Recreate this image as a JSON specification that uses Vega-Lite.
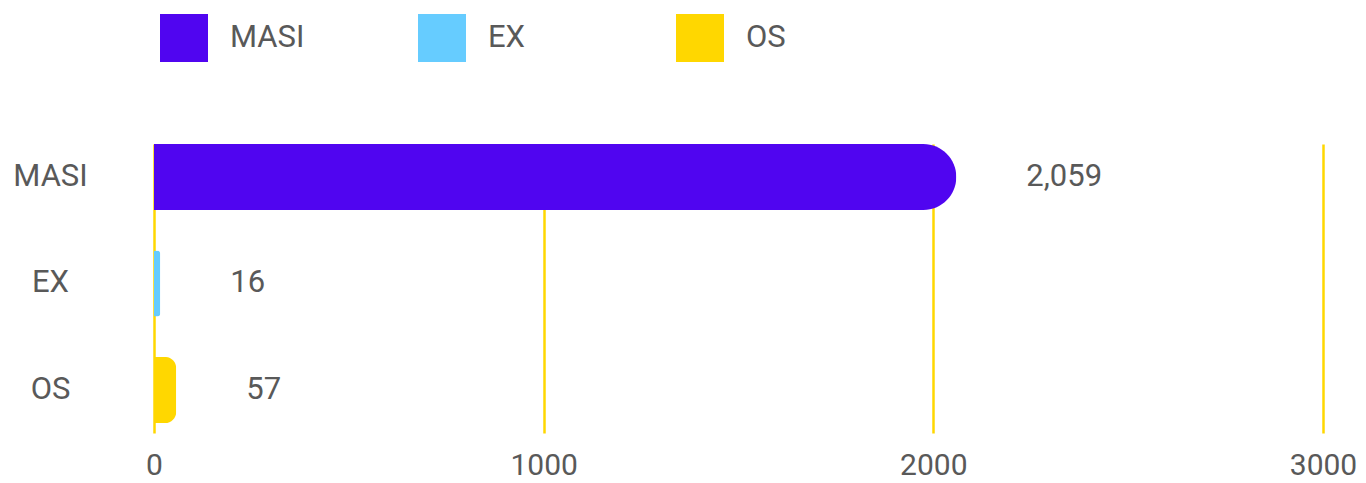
{
  "$schema": "https://vega.github.io/schema/vega-lite/v6.json",
  "autosize": "none",
  "padding": {"left": 154, "top": 144, "right": 43, "bottom": 50},
  "width": 1169,
  "height": 289,
  "config": {
    "view": {"stroke": null},
    "font": "Roboto",
    "axis": {"labelFont": "Roboto", "labelFontSize": 31, "labelColor": "#595959"}
  },
  "data": {
    "values": [
      {"index": "MASI", "value": 2059},
      {"index": "EX", "value": 16},
      {"index": "OS", "value": 57}
    ]
  },
  "encoding": {
    "y": {
      "field": "index",
      "type": "nominal",
      "sort": ["MASI", "EX", "OS"],
      "scale": {"paddingInner": 0.38, "paddingOuter": 0.047, "align": 0},
      "axis": {
        "title": null,
        "domain": false,
        "ticks": false,
        "labelAlign": "center",
        "labelBaseline": "middle",
        "labelPadding": 104
      }
    },
    "x": {
      "field": "value",
      "type": "quantitative",
      "scale": {"domain": [0, 3000], "nice": false},
      "axis": {
        "title": null,
        "values": [0, 1000, 2000, 3000],
        "format": "d",
        "domain": false,
        "ticks": false,
        "labelPadding": 17,
        "labelFontSize": 30,
        "labelFlush": false,
        "labelOverlap": false,
        "grid": true,
        "gridColor": "#FFD700",
        "gridWidth": 2.5,
        "gridOpacity": 1
      }
    }
  },
  "layer": [
    {
      "mark": {"type": "bar", "cornerRadiusEnd": 33},
      "encoding": {
        "color": {
          "field": "index",
          "type": "nominal",
          "scale": {"domain": ["MASI", "EX", "OS"], "range": ["#5005F0", "#66CCFF", "#FFD700"]},
          "legend": {
            "title": null,
            "orient": "none",
            "legendX": 6,
            "legendY": -130,
            "direction": "horizontal",
            "columns": 3,
            "gridAlign": "all",
            "columnPadding": 113,
            "padding": 0,
            "symbolType": "square",
            "symbolSize": 2304,
            "symbolStrokeWidth": 0,
            "symbolOpacity": 1,
            "labelFont": "Roboto",
            "labelFontSize": 31,
            "labelColor": "#595959",
            "labelOffset": 22
          }
        }
      }
    },
    {
      "mark": {"type": "text", "align": "left", "baseline": "middle", "dx": 70, "fontSize": 31, "font": "Roboto", "color": "#595959"},
      "encoding": {
        "text": {"field": "value", "type": "quantitative", "format": ","}
      }
    }
  ]
}
